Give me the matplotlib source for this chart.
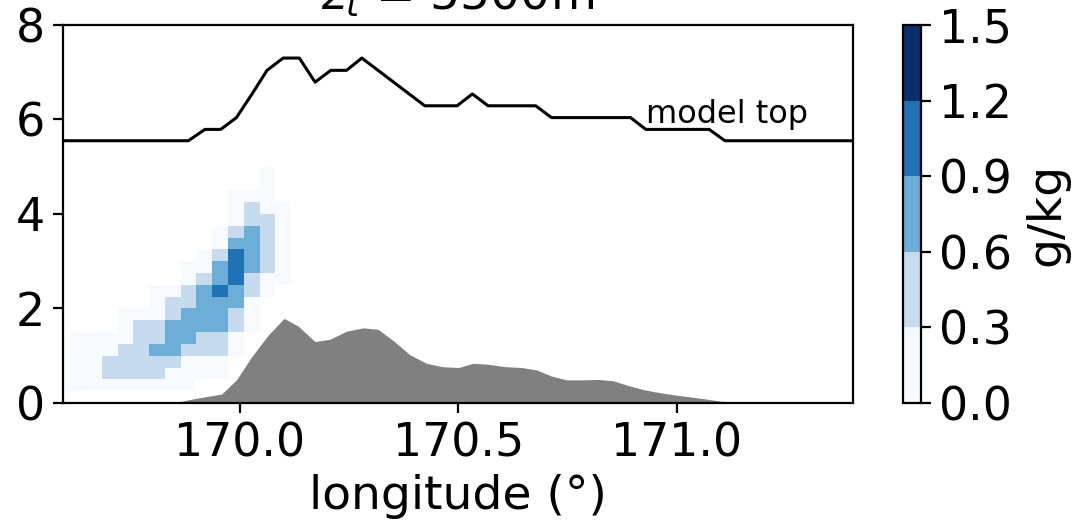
import numpy as np
import matplotlib
matplotlib.use('Agg')
import matplotlib.pyplot as plt
from matplotlib.colors import BoundaryNorm

plt.rcParams['font.family'] = 'DejaVu Sans'
plt.rcParams['font.size'] = 33
plt.rcParams['mathtext.fontset'] = 'dejavusans'

nan = np.nan

# cloud water (g/kg) on the model grid, rows from z=0.25 km upward, 0.25 km thick
cloud_rows = [
    [0.15, 0.15, 0.15, 0.15, 0.15, 0.15, 0.15, 0.15, nan, nan, nan, nan, nan, nan],
    [0.15, 0.15, 0.45, 0.45, 0.45, 0.45, 0.15, 0.15, 0.15, 0.15, nan, nan, nan, nan],
    [0.15, 0.15, 0.45, 0.45, 0.45, 0.45, 0.45, 0.15, 0.15, 0.15, nan, nan, nan, nan],
    [0.15, 0.15, 0.15, 0.45, 0.45, 0.75, 0.75, 0.45, 0.45, 0.45, 0.15, nan, nan, nan],
    [0.15, 0.15, 0.15, 0.15, 0.45, 0.45, 0.75, 0.75, 0.45, 0.45, 0.15, nan, nan, nan],
    [nan, nan, nan, 0.15, 0.45, 0.45, 0.75, 0.75, 0.75, 0.75, 0.45, 0.15, nan, nan],
    [nan, nan, nan, 0.15, 0.15, 0.15, 0.45, 0.75, 0.75, 0.75, 0.45, 0.15, nan, nan],
    [nan, nan, nan, nan, nan, 0.15, 0.45, 0.45, 0.75, 0.75, 0.75, 0.15, nan, nan],
    [nan, nan, nan, nan, nan, 0.15, 0.15, 0.45, 0.75, 1.05, 0.75, 0.45, 0.15, nan],
    [nan, nan, nan, nan, nan, nan, nan, 0.15, 0.45, 0.75, 1.05, 0.45, 0.15, 0.15],
    [nan, nan, nan, nan, nan, nan, nan, 0.15, 0.15, 0.75, 1.05, 0.75, 0.45, 0.15],
    [nan, nan, nan, nan, nan, nan, nan, nan, 0.15, 0.45, 1.05, 0.75, 0.45, 0.15],
    [nan, nan, nan, nan, nan, nan, nan, nan, nan, 0.15, 0.75, 0.75, 0.45, 0.15],
    [nan, nan, nan, nan, nan, nan, nan, nan, nan, 0.15, 0.45, 0.75, 0.45, 0.15],
    [nan, nan, nan, nan, nan, nan, nan, nan, nan, nan, 0.15, 0.45, 0.45, 0.15],
    [nan, nan, nan, nan, nan, nan, nan, nan, nan, nan, 0.15, 0.45, 0.15, 0.15],
    [nan, nan, nan, nan, nan, nan, nan, nan, nan, nan, 0.15, 0.15, 0.15, nan],
    [nan, nan, nan, nan, nan, nan, nan, nan, nan, nan, nan, nan, 0.15, nan],
    [nan, nan, nan, nan, nan, nan, nan, nan, nan, nan, nan, nan, 0.15, nan],
]
cloud = np.ma.masked_invalid(np.array(cloud_rows))
lon_edges = np.linspace(169.612, 170.117, cloud.shape[1] + 1)
z_edges = np.linspace(0.25, 5.0, cloud.shape[0] + 1)

# terrain height (km)
terrain_lon = [169.59, 169.83, 169.863, 169.90, 169.92, 169.958, 169.992, 170.027, 170.065,
               170.101, 170.133, 170.172, 170.206, 170.244, 170.282, 170.316, 170.351,
               170.389, 170.427, 170.462, 170.500, 170.534, 170.568, 170.606, 170.645,
               170.679, 170.713, 170.747, 170.786, 170.820, 170.854, 170.889, 170.925,
               170.96, 170.996, 171.03, 171.07, 171.10, 171.14, 171.18, 171.41]
terrain_h = [0.0, 0.0, 0.03, 0.10, 0.13, 0.19, 0.49, 0.98, 1.44,
             1.79, 1.63, 1.30, 1.35, 1.52, 1.59, 1.56, 1.32,
             1.02, 0.84, 0.77, 0.75, 0.84, 0.82, 0.77, 0.75,
             0.70, 0.57, 0.49, 0.49, 0.50, 0.47, 0.37, 0.28,
             0.22, 0.17, 0.13, 0.08, 0.04, 0.01, 0.0, 0.0]

# model top (km)
top_lon = [169.595, 169.882, 169.920, 169.956, 169.992, 170.027, 170.062, 170.099, 170.136,
           170.172, 170.208, 170.244, 170.279, 170.423, 170.497, 170.532, 170.568, 170.677,
           170.713, 170.894, 170.929, 171.074, 171.110, 171.403]
top_h = [5.55, 5.55, 5.79, 5.79, 6.04, 6.53, 7.04, 7.30, 7.30,
         6.79, 7.04, 7.04, 7.30, 6.29, 6.29, 6.54, 6.29, 6.29,
         6.04, 6.04, 5.79, 5.79, 5.55, 5.55]

levels = [0.0, 0.3, 0.6, 0.9, 1.2, 1.5]

fig = plt.figure(figsize=(10.82, 5.27), dpi=100)
ax = fig.add_axes([0.0582, 0.2353, 0.7301, 0.7173])
cax = fig.add_axes([0.8346, 0.2353, 0.0167, 0.7173])

cmap = plt.get_cmap('Blues')
norm = BoundaryNorm(levels, ncolors=cmap.N)
pc = ax.pcolormesh(lon_edges, z_edges, cloud, cmap=cmap, norm=norm)
ax.fill_between(terrain_lon, 0, terrain_h, color='grey', lw=0)
ax.plot(top_lon, top_h, color='k', lw=2.2)
ax.text(170.929, 5.93, 'model top', fontsize=23)

ax.set_xlim(169.595, 171.403)
ax.set_ylim(0, 8)
ax.set_xticks([170.0, 170.5, 171.0])
ax.set_xticklabels(['170.0', '170.5', '171.0'])
ax.set_yticks([0, 2, 4, 6, 8])
ax.set_xlabel('longitude (°)', fontsize=34, labelpad=6)
ax.set_title(r'$z_t$ = 5500m', fontsize=34, pad=11)
ax.tick_params(length=7, width=1.6, pad=6)
for s in ax.spines.values():
    s.set_linewidth(1.6)

cb = fig.colorbar(pc, cax=cax, ticks=levels)
cb.ax.set_yticklabels(['0.0', '0.3', '0.6', '0.9', '1.2', '1.5'])
cb.set_label('g/kg', fontsize=34, labelpad=9)
cb.ax.tick_params(length=7, width=1.6, pad=6)
cb.outline.set_linewidth(1.6)

fig.savefig('out.png', dpi=100)
